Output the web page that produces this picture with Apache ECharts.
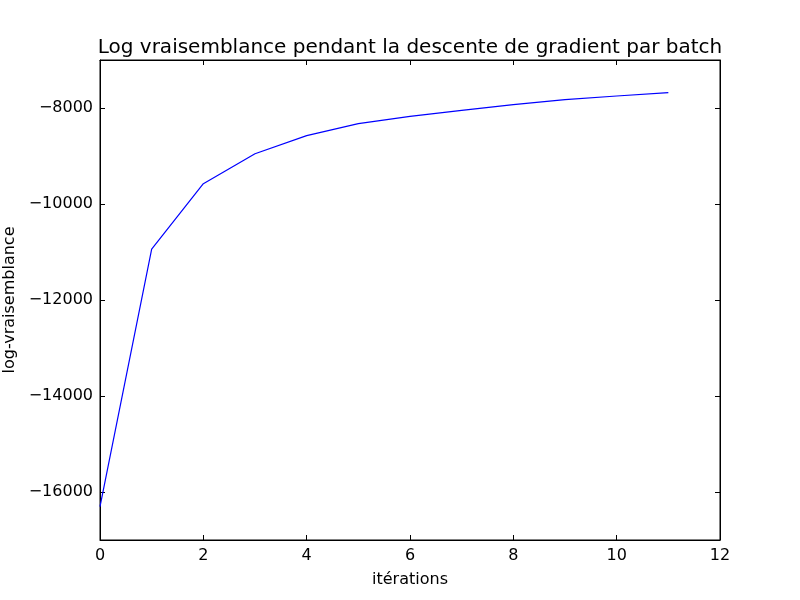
<!DOCTYPE html>
<html>
<head>
<meta charset="utf-8">
<script src="https://cdn.jsdelivr.net/npm/echarts@6/dist/echarts.min.js"></script>
<style>
  html, body { margin: 0; padding: 0; background: #fff; }
  #chart-container { width: 800px; height: 600px; }
</style>
</head>
<body>
<div id="chart-container"></div>
<script>
// log-vraisemblance par itération
var iterations = [0, 1, 2, 3, 4, 5, 6, 7, 8, 9, 10, 11];
var logVrais = [-16306, -10938, -9577, -8952, -8576, -8327, -8174, -8049, -7931, -7826, -7750, -7681];
var xTicks = [0, 2, 4, 6, 8, 10, 12];
var yTicks = [-16000, -14000, -12000, -10000, -8000];

var myChart = echarts.init(document.getElementById('chart-container'));

var font = 'DejaVu Sans';
function minus(v) { return String(v).replace('-', '\u2212'); }

var baseX = {
  type: 'value', min: 0, max: 12, interval: 2,
  axisLine: { show: true, onZero: false, lineStyle: { color: '#000', width: 1 } },
  axisTick: { show: true, inside: true, length: 5, lineStyle: { color: '#000' } },
  splitLine: { show: false }
};
var baseY = {
  type: 'value', min: -17000, max: -7000,
  axisLine: { show: true, onZero: false, lineStyle: { color: '#000', width: 1 } },
  axisTick: { show: true, inside: true, length: 5, customValues: yTicks, lineStyle: { color: '#000' } },
  splitLine: { show: false }
};

var option = {
  animation: false,
  title: {
    text: 'Log vraisemblance pendant la descente de gradient par batch',
    left: 405, top: 33, textAlign: 'center',
    textStyle: { fontFamily: font, fontSize: 20, fontWeight: 'normal', color: '#000' }
  },
  grid: {
    left: 100, right: 80, top: 60, bottom: 60,
    outerBoundsMode: 'none', containLabel: false,
    show: true, borderColor: '#000', borderWidth: 1
  },
  xAxis: [
    Object.assign({}, baseX, {
      position: 'bottom',
      name: 'itérations', nameLocation: 'middle', nameGap: 32,
      nameTextStyle: { fontFamily: font, fontSize: 16, color: '#000' },
      axisLabel: { show: true, margin: 8, fontFamily: font, fontSize: 16, color: '#000', customValues: xTicks, formatter: minus }
    }),
    Object.assign({}, baseX, { position: 'top', axisLabel: { show: false } })
  ],
  yAxis: [
    Object.assign({}, baseY, {
      position: 'left',
      name: 'log-vraisemblance', nameLocation: 'middle', nameGap: 79,
      nameTextStyle: { fontFamily: font, fontSize: 16, color: '#000' },
      axisLabel: { show: true, margin: 7, fontFamily: font, fontSize: 16, color: '#000', customValues: yTicks, formatter: minus }
    }),
    Object.assign({}, baseY, { position: 'right', axisLabel: { show: false } })
  ],
  series: [
    {
      name: 'log-vraisemblance',
      type: 'line',
      xAxisIndex: 0, yAxisIndex: 0,
      data: iterations.map(function (it, i) { return [it, logVrais[i]]; }),
      showSymbol: false,
      lineStyle: { color: '#0000ff', width: 1.2 }
    }
  ]
};

myChart.setOption(option);
</script>
</body>
</html>
